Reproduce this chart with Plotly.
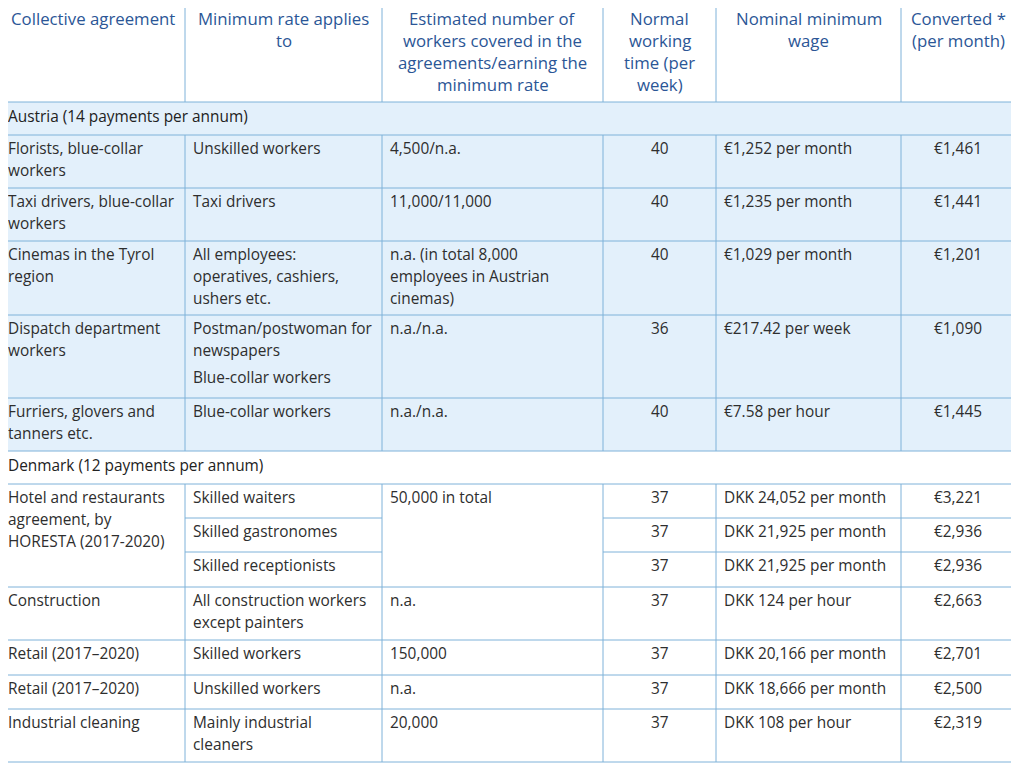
import plotly.graph_objects as go

# ---------------- data ----------------
header = ["Collective agreement", "Minimum rate applies\nto",
          "Estimated number of\nworkers covered in the\nagreements/earning the\nminimum rate",
          "Normal\nworking\ntime (per\nweek)", "Nominal minimum\nwage", "Converted *\n(per month)"]

sections = ["Austria (14 payments per annum)", "Denmark (12 payments per annum)"]

at_agreement = ["Florists, blue-collar\nworkers", "Taxi drivers, blue-collar\nworkers",
                "Cinemas in the Tyrol\nregion", "Dispatch department\nworkers",
                "Furriers, glovers and\ntanners etc."]
at_applies = ["Unskilled workers", "Taxi drivers", "All employees:\noperatives, cashiers,\nushers etc.",
              "Postman/postwoman for\nnewspapers\n\nBlue-collar workers", "Blue-collar workers"]
at_workers = ["4,500/n.a.", "11,000/11,000", "n.a. (in total 8,000\nemployees in Austrian\ncinemas)",
              "n.a./n.a.", "n.a./n.a."]
at_hours = [40, 40, 40, 36, 40]
at_nominal = ["€1,252 per month", "€1,235 per month", "€1,029 per month", "€217.42 per week",
              "€7.58 per hour"]
at_converted = ["€1,461", "€1,441", "€1,201", "€1,090", "€1,445"]

dk_agreement = ["Hotel and restaurants\nagreement, by\nHORESTA (2017-2020)", "", "",
                "Construction", "Retail (2017–2020)", "Retail (2017–2020)", "Industrial cleaning"]
dk_agreement_span = [3, 0, 0, 1, 1, 1, 1]
dk_applies = ["Skilled waiters", "Skilled gastronomes", "Skilled receptionists",
              "All construction workers\nexcept painters", "Skilled workers", "Unskilled workers",
              "Mainly industrial\ncleaners"]
dk_workers = ["50,000 in total", "", "", "n.a.", "150,000", "n.a.", "20,000"]
dk_workers_span = [3, 0, 0, 1, 1, 1, 1]
dk_hours = [37, 37, 37, 37, 37, 37, 37]
dk_nominal = ["DKK 24,052 per month", "DKK 21,925 per month", "DKK 21,925 per month",
              "DKK 124 per hour", "DKK 20,166 per month", "DKK 18,666 per month", "DKK 108 per hour"]
dk_converted = ["€3,221", "€2,936", "€2,936", "€2,663", "€2,701", "€2,500", "€2,319"]

# ---------------- layout geometry ----------------
W, H = 1019, 763
OFF = 8  # page body margin in the browser
col_x = [0, 185, 382, 603, 716, 901, 1015]
col_align = ["left", "left", "left", "center", "left", "center"]
header_y = (4, 102)
at_section_y = (102, 135)
at_row_y = [135, 188, 241, 315, 398, 451]
dk_section_y = (451, 484)
dk_row_y = [484, 518, 552, 587, 640, 675, 709, 762]

LINE = "#7eb2d9"
FILL = "#e3f0fb"
HEAD_COLOR = "#2b5696"
TEXT_COLOR = "#2e2e2e"
FONT = "Open Sans"
FS = 15.4
HFS = 16.8
LH = 22
PAD = 5.5

shapes = []
annotations = []


def hline(y, x0=0, x1=col_x[-1]):
    shapes.append(dict(type="line", xref="x", yref="y", x0=x0, x1=x1, y0=y, y1=y,
                       line=dict(color=LINE, width=1)))


def vline(x, y0, y1):
    shapes.append(dict(type="line", xref="x", yref="y", x0=x, x1=x, y0=y0, y1=y1,
                       line=dict(color=LINE, width=1)))


def rect(x0, x1, y0, y1, color):
    shapes.append(dict(type="rect", xref="x", yref="y", x0=x0, x1=x1, y0=y0, y1=y1,
                       fillcolor=color, line=dict(width=0), layer="below"))


def add_text(x, y, text, xanchor, size, color, weight=400):
    # annotations whose anchor falls outside the axis range are hidden,
    # so anchor inside the range and shift by the remainder
    shift = 0
    if x < OFF + 1:
        shift = x - (OFF + 1)
        x = OFF + 1
    annotations.append(dict(x=x, y=y, xref="x", yref="y", text=text, showarrow=False,
                            xanchor=xanchor, yanchor="middle", xshift=shift,
                            font=dict(family=FONT, size=size, color=color, weight=weight)))


def cell_text(text, ci, top, color=TEXT_COLOR, align=None, first=13, size=FS, weight=400):
    align = align or col_align[ci]
    if align == "center":
        x = (col_x[ci] + col_x[ci + 1]) / 2
        xanchor = "center"
    else:
        x = col_x[ci] + PAD
        xanchor = "left"
    y = top + first
    for line in str(text).split("\n"):
        if line == "":
            y += 5
            continue
        add_text(x, y, line, xanchor, size, color, weight)
        y += LH


# background for Austria section
rect(0, col_x[-1], at_section_y[0], at_row_y[-1], FILL)

# header
hline(header_y[0])
hline(header_y[1])
for x in col_x[1:-1]:
    vline(x, 0, header_y[1])
for ci, t in enumerate(header):
    cell_text(t, ci, header_y[0], color=HEAD_COLOR, align="center", first=14, size=HFS,
              weight=500)

# Austria section
hline(at_section_y[1])
add_text(PAD, at_section_y[0] + 14, sections[0], "left", FS, "#222222", 500)
for i in range(len(at_agreement)):
    top, bot = at_row_y[i], at_row_y[i + 1]
    hline(bot)
    for x in col_x[1:-1]:
        vline(x, top, bot)
    vals = [at_agreement[i], at_applies[i], at_workers[i], at_hours[i], at_nominal[i],
            at_converted[i]]
    for ci, v in enumerate(vals):
        cell_text(v, ci, top)

# Denmark section
hline(dk_section_y[1])
add_text(PAD, dk_section_y[0] + 14, sections[1], "left", FS, "#222222", 500)
n_dk = len(dk_applies)
for i in range(n_dk):
    top, bot = dk_row_y[i], dk_row_y[i + 1]
    for x in col_x[1:-1]:
        vline(x, top, bot)
    merged_continues = (i + 1 < n_dk) and dk_agreement_span[i + 1] == 0
    if merged_continues:
        hline(bot, col_x[1], col_x[2])
        hline(bot, col_x[3], col_x[-1])
    else:
        hline(bot)
    if dk_agreement_span[i] > 0:
        cell_text(dk_agreement[i], 0, top)
    cell_text(dk_applies[i], 1, top)
    if dk_workers_span[i] > 0:
        cell_text(dk_workers[i], 2, top)
    cell_text(dk_hours[i], 3, top)
    cell_text(dk_nominal[i], 4, top)
    cell_text(dk_converted[i], 5, top)

fig = go.Figure(go.Scatter(x=[OFF, W], y=[OFF, H], mode="markers", marker=dict(opacity=0),
                           hoverinfo="skip", showlegend=False))
fig.update_layout(
    width=W - OFF, height=H - OFF, margin=dict(l=0, r=0, t=0, b=0),
    paper_bgcolor="white", plot_bgcolor="white",
    xaxis=dict(range=[OFF, W], visible=False, fixedrange=True),
    yaxis=dict(range=[H, OFF], visible=False, fixedrange=True),
    shapes=shapes, annotations=annotations, showlegend=False,
)
fig.write_html("out.html")
